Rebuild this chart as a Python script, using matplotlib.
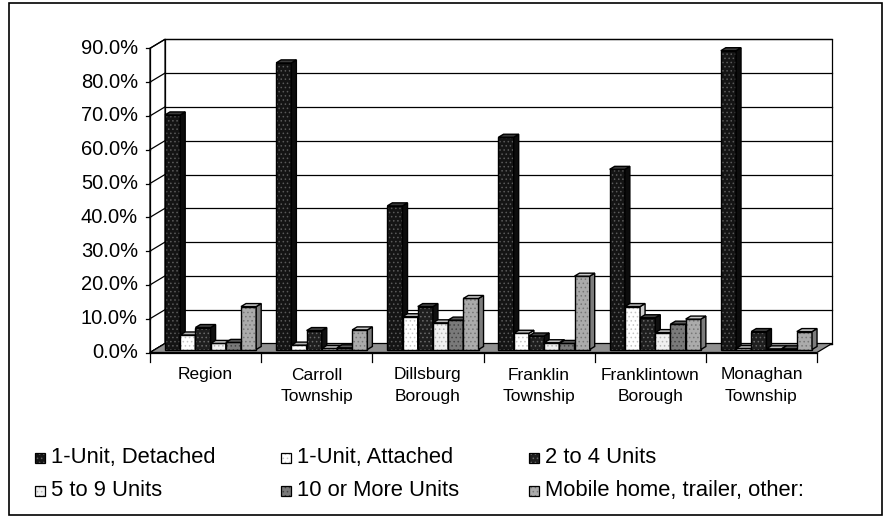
import matplotlib
matplotlib.use("Agg")
import matplotlib.pyplot as plt
from matplotlib.patches import Polygon, Rectangle

plt.rcParams["font.family"] = ["Liberation Sans", "DejaVu Sans"]
plt.rcParams["hatch.linewidth"] = 0.6

# ---- data -------------------------------------------------------------
categories = ["Region", "Carroll\nTownship", "Dillsburg\nBorough",
              "Franklin\nTownship", "Franklintown\nBorough", "Monaghan\nTownship"]
series_names = ["1-Unit, Detached", "1-Unit, Attached", "2 to 4 Units",
                "5 to 9 Units", "10 or More Units", "Mobile home, trailer, other:"]
detached = [69.4, 84.8, 42.5, 62.8, 53.3, 88.4]
attached = [4.3, 1.3, 9.7, 4.8, 12.7, 0.3]
two_to_four = [6.5, 5.6, 12.7, 4.0, 9.4, 5.3]
five_to_nine = [1.8, 0.3, 7.9, 2.0, 5.0, 0.2]
ten_or_more = [2.1, 0.5, 8.7, 1.8, 7.5, 0.2]
mobile_home = [12.7, 5.8, 15.1, 21.7, 9.0, 5.3]
y_ticks = [0, 10, 20, 30, 40, 50, 60, 70, 80, 90]

series_values = [detached, attached, two_to_four, five_to_nine, ten_or_more, mobile_home]

# face colours per series: front, dot pattern, side, top
styles = [
    dict(front="#141414", dots="#5a5a5a", side="#0c0c0c", top="#3a3a3a"),
    dict(front="#ffffff", dots="#c4c4c4", side="#cfcfcf", top="#b4b4b4"),
    dict(front="#1e1e1e", dots="#6a6a6a", side="#101010", top="#444444"),
    dict(front="#f0f0f0", dots="#b4b4b4", side="#c4c4c4", top="#bcbcbc"),
    dict(front="#7a7a7a", dots="#444444", side="#555555", top="#5c5c5c"),
    dict(front="#ababab", dots="#777777", side="#7c7c7c", top="#c8c8c8"),
]

# ---- figure / axes ----------------------------------------------------
W, H = 885, 518
fig = plt.figure(figsize=(W / 100, H / 100), dpi=100)
ax_left, ax_right, ax_bottom, ax_top = 150, 817, 352.5, 48.3   # pixel frame of the front plane
ax = fig.add_axes([ax_left / W, (H - ax_bottom) / H,
                   (ax_right - ax_left) / W, (ax_bottom - ax_top) / H])
n_cat = len(categories)
ymax = y_ticks[-1]
ax.set_xlim(0, n_cat)
ax.set_ylim(0, ymax)
ax.axis("off")

px_x = n_cat / (ax_right - ax_left)        # data units per pixel
px_y = ymax / (ax_bottom - ax_top)
dx, dy = 15 * px_x, 9 * px_y               # depth of the plot box

def poly(pts, fc, ec="black", lw=0.9, z=1, **kw):
    p = Polygon(pts, closed=True, facecolor=fc, edgecolor=ec, linewidth=lw,
                zorder=z, clip_on=False, joinstyle="miter", **kw)
    ax.add_patch(p)
    return p

# walls and floor
poly([(dx, dy), (n_cat + dx, dy), (n_cat + dx, ymax + dy), (dx, ymax + dy)], "white", z=1)
poly([(0, 0), (dx, dy), (dx, ymax + dy), (0, ymax)], "white", z=1)
for v in y_ticks:
    ax.plot([dx, n_cat + dx], [v + dy, v + dy], color="black", lw=0.9, zorder=2, clip_on=False)
    ax.plot([0, dx], [v, v + dy], color="black", lw=0.9, zorder=2, clip_on=False)
    ax.plot([-4 * px_x, 0], [v, v], color="black", lw=0.9, zorder=2, clip_on=False)
    ax.text(-12 * px_x, v, f"{v:.1f}%", ha="right", va="center", fontsize=14.5)
poly([(0, 0), (n_cat, 0), (n_cat + dx, dy), (dx, dy)], "#909090", z=3)
ax.plot([0, 0], [0, ymax], color="black", lw=0.9, zorder=3, clip_on=False)

# category axis
ax.plot([0, n_cat], [0, 0], color="black", lw=0.9, zorder=4, clip_on=False)
for i in range(n_cat + 1):
    ax.plot([i, i], [0, -9 * px_y], color="black", lw=0.9, zorder=4, clip_on=False)
for i, name in enumerate(categories):
    ax.text(i + 0.5, -15 * px_y, name, ha="center", va="top", fontsize=12.5,
            linespacing=1.55)

# ---- bars ---------------------------------------------------------------
pitch = 15.2 * px_x
group_offset = 10 * px_x
bdx0, bdy0 = dx / 3, dy / 3          # front face of the bars
bdx1, bdy1 = 2 * dx / 3, 2 * dy / 3  # back face of the bars

def bar3d(x0, w, h, st, z):
    x1 = x0 + w
    fx0, fx1 = x0 + bdx0, x1 + bdx0
    fy0, fy1 = bdy0, h + bdy0
    gx, gy = bdx1 - bdx0, bdy1 - bdy0
    # front face with dot pattern, then outline
    poly([(fx0, fy0), (fx1, fy0), (fx1, fy1), (fx0, fy1)], st["front"],
         ec=st["dots"], lw=0, z=z, hatch="....")
    poly([(fx0, fy0), (fx1, fy0), (fx1, fy1), (fx0, fy1)], "none", lw=1.0, z=z + 0.01)
    # side face
    poly([(fx1, fy0), (fx1 + gx, fy0 + gy), (fx1 + gx, fy1 + gy), (fx1, fy1)],
         st["side"], lw=1.0, z=z + 0.02)
    # top face
    poly([(fx0, fy1), (fx1, fy1), (fx1 + gx, fy1 + gy), (fx0 + gx, fy1 + gy)],
         st["top"], lw=1.0, z=z + 0.03)

z = 10
for ci in range(n_cat):
    for si, vals in enumerate(series_values):
        bar3d(ci + group_offset + si * pitch, pitch, vals[ci], styles[si], z)
        z += 0.1

# ---- legend -------------------------------------------------------------
leg_cols = [35, 281, 529]
leg_rows = [457.5, 490.5]
for k, name in enumerate(series_names):
    r, c = divmod(k, 3)
    x, y = leg_cols[c], leg_rows[r]
    st = styles[k]
    fig.add_artist(Rectangle((x / W, (H - y - 5) / H), 10 / W, 10 / H,
                             facecolor=st["front"], edgecolor=st["dots"], lw=0,
                             hatch="....", transform=fig.transFigure))
    fig.add_artist(Rectangle((x / W, (H - y - 5) / H), 10 / W, 10 / H,
                             facecolor="none", edgecolor="black", lw=0.9,
                             transform=fig.transFigure))
    fig.text((x + 16) / W, (H - y) / H, name, ha="left", va="center", fontsize=15.8)

# chart area border
fig.add_artist(Rectangle((9 / W, 3 / H), (882 - 9) / W, (515 - 3) / H,
                         facecolor="none", edgecolor="black", lw=1.2,
                         transform=fig.transFigure))

fig.savefig("out.png", dpi=100)
